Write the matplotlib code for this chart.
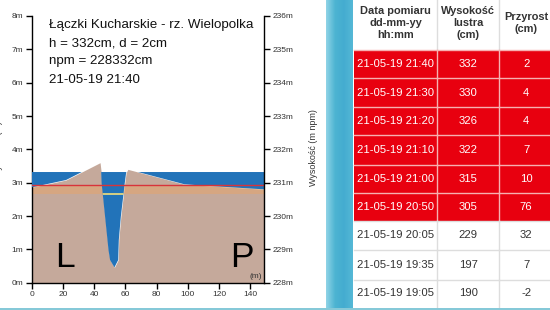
import numpy as np
import matplotlib
matplotlib.use("Agg")
import matplotlib.pyplot as plt
from matplotlib.patches import Rectangle
from matplotlib.path import Path
from matplotlib.colors import LinearSegmentedColormap

plt.rcParams['font.family'] = ['Liberation Sans', 'DejaVu Sans']

# ---------------- data ----------------
station = "Łączki Kucharskie - rz. Wielopolka"
dates = ["21-05-19 21:40", "21-05-19 21:30", "21-05-19 21:20", "21-05-19 21:10",
         "21-05-19 21:00", "21-05-19 20:50", "21-05-19 20:05", "21-05-19 19:35",
         "21-05-19 19:05"]
levels_cm = [332, 330, 326, 322, 315, 305, 229, 197, 190]
changes_cm = [2, 4, 4, 7, 10, 76, 32, 7, -2]
npm_cm = 228332
alarm_m = 2.92
warning_m = 2.67

# river cross-section (distance m, height m)
profile_x = [0, 22, 43.8, 44.5, 44.8, 49.2, 50.2, 53.0, 55.4, 55.8, 57.1, 59.6, 60.5, 61.6, 98, 149]
profile_y = [2.86, 3.08, 3.60, 3.32, 2.98, 0.98, 0.68, 0.46, 0.68, 1.28, 1.98, 2.98, 3.30, 3.40, 2.95, 2.80]

left_ticks = list(range(0, 9))
right_ticks = list(range(228, 237))
x_ticks = list(range(0, 141, 20))

# ---------------- figure ----------------
W, H = 550, 310
fig = plt.figure(figsize=(W / 100, H / 100), dpi=100)

def fx(px):
    return px / W

def fy(py):
    return 1 - py / H

ax_l, ax_r, ax_t, ax_b = 31.7, 264.3, 16.0, 282.7
ax = fig.add_axes([fx(ax_l), fy(ax_b), fx(ax_r - ax_l), (ax_b - ax_t) / H])
px = np.array(profile_x)
py = np.array(profile_y)
water = levels_cm[0] / 100.0

tan = '#c5a99b'
blue = '#2273b9'
ax.fill_between(px, 0, py, color=tan, lw=0, zorder=1)
ax.fill_between([px[0], px[-1]], warning_m, alarm_m, color='#e8a468', alpha=0.5, lw=0, zorder=2)
wcoll = ax.fill_between(px, py, water, where=py < water, interpolate=True,
                        color=blue, lw=0, zorder=3)
ax.axhline(alarm_m, color='#d8333a', lw=1.0, zorder=4)
yl, = ax.plot([px[0], px[-1]], [warning_m, warning_m], color='#f4e07a', lw=1.2, zorder=4)
paths = wcoll.get_paths()
if paths:
    yl.set_clip_path(Path.make_compound_path(*paths), ax.transData)

ax.set_xlim(0, 149)
ax.set_ylim(0, 8)
ax.set_xticks(x_ticks)
ax.set_yticks(left_ticks)
ax.set_yticklabels([f"{v}m" for v in left_ticks])
ax.spines['top'].set_visible(False)
ax.spines['right'].set_visible(False)
for s in ['left', 'bottom']:
    ax.spines[s].set_linewidth(1.0)
ax.tick_params(direction='out', length=4, width=1, labelsize=6, labelcolor='#333333', pad=2)

ax2 = ax.twinx()
ax2.set_ylim(228, 236)
ax2.set_yticks(right_ticks)
ax2.set_yticklabels([f"{v}m" for v in right_ticks])
for s in ['top', 'left', 'bottom']:
    ax2.spines[s].set_visible(False)
ax2.spines['right'].set_linewidth(1.0)
ax2.tick_params(direction='out', length=4, width=1, labelsize=6, labelcolor='#333333', pad=2)

# chart texts
info = [station, f"h = {levels_cm[0]}cm, d = {changes_cm[0]}cm", f"npm = {npm_cm}cm", dates[0]]
for i, line in enumerate(info):
    fig.text(fx(49.3), fy(25 + i * 18.2), line, fontsize=9.6, color='#111111', va='center', ha='left')
fig.text(fx(55.5), fy(267.3), "L", fontsize=25.5, color='black', va='baseline', ha='left')
fig.text(fx(230.5), fy(267.3), "P", fontsize=25.5, color='black', va='baseline', ha='left')
fig.text(fx(256), fy(276), "(m)", fontsize=6, color='#333333', va='center', ha='center')
fig.text(fx(313), fy(148), "Wysokość (m npm)", fontsize=6.5, color='#333333', rotation=90,
         va='center', ha='center')
fig.text(fx(-1), fy(150), "Wysokość (m)", fontsize=6.5, color='#333333', rotation=90,
         va='center', ha='center')

# side strip (gradient)
gax = fig.add_axes([fx(326), 0, fx(353 - 326), 1])
grad = np.linspace(0, 1, 50)[None, :]
cmap = LinearSegmentedColormap.from_list('strip', ['#8fd3e6', '#4db4d2', '#44acd0', '#55b8d6'])
gax.imshow(grad, aspect='auto', cmap=cmap, extent=[0, 1, 0, 1])
gax.axis('off')

# bottom line
fig.add_artist(Rectangle((0, 0), 1, 2.5 / H, transform=fig.transFigure,
                         facecolor='#86c9d8', edgecolor='none', zorder=5))

# ---------------- table ----------------
col_edges = [353.5, 437.3, 499.3, 553]
row_edges = [50, 78.5, 107, 135.5, 164.5, 193, 221, 250, 279.5, 307.5]
red = '#e8000f'

def rect(x0, y0, x1, y1, **kw):
    fig.add_artist(Rectangle((fx(x0), fy(y1)), fx(x1 - x0), (y1 - y0) / H,
                             transform=fig.transFigure, **kw))

headers = ["Data pomiaru\ndd-mm-yy\nhh:mm", "Wysokość\nlustra\n(cm)", "Przyrost\n(cm)"]
rect(col_edges[0], 0, W, row_edges[0], facecolor='white', edgecolor='none')
for j, htxt in enumerate(headers):
    cx = (col_edges[j] + col_edges[j + 1]) / 2
    fig.text(fx(cx), fy(23.5), htxt, fontsize=7.9, fontweight='bold', color='#333333',
             ha='center', va='center', linespacing=1.25)
for j in (1, 2):
    fig.add_artist(plt.Line2D([fx(col_edges[j])] * 2, [fy(0), fy(row_edges[0])],
                              transform=fig.transFigure, color='#dddddd', lw=1))

for i in range(len(dates)):
    y0, y1 = row_edges[i], row_edges[i + 1]
    is_alarm = levels_cm[i] / 100.0 > alarm_m
    fc = red if is_alarm else 'white'
    tc = 'white' if is_alarm else '#333333'
    rect(col_edges[0], y0, W, y1, facecolor=fc, edgecolor='none')
    vals = [dates[i], str(levels_cm[i]), str(changes_cm[i])]
    for j, v in enumerate(vals):
        cx = (col_edges[j] + col_edges[j + 1]) / 2
        fig.text(fx(cx), fy((y0 + y1) / 2), v, fontsize=8.1, color=tc, ha='center', va='center')
    lc = '#f6b0b0' if is_alarm else '#dddddd'
    fig.add_artist(plt.Line2D([fx(col_edges[0]), 1], [fy(y0)] * 2,
                              transform=fig.transFigure, color=lc, lw=1))
    for j in (1, 2):
        fig.add_artist(plt.Line2D([fx(col_edges[j])] * 2, [fy(y0), fy(y1)],
                                  transform=fig.transFigure, color=lc, lw=1))

fig.savefig("out.png", dpi=100)
